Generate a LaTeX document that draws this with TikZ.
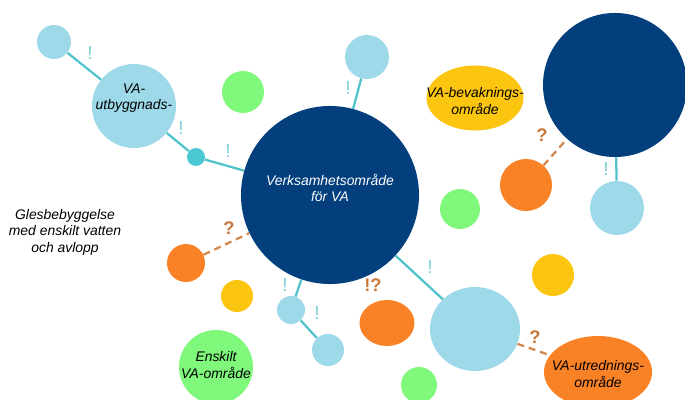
\documentclass[tikz,border=0pt]{standalone}
\usepackage{fontspec}
\setmainfont{Liberation Sans}
\usepackage{tikz}
\usetikzlibrary{shapes.geometric}

\definecolor{navy}{HTML}{023F7C}
\definecolor{skyblue}{HTML}{9DD9E8}
\definecolor{tealline}{HTML}{4FC2CB}
\definecolor{tealdot}{HTML}{4CC8D4}
\definecolor{leafgreen}{HTML}{80F87C}
\definecolor{tangerine}{HTML}{FA8226}
\definecolor{amber}{HTML}{FCC50F}
\definecolor{rust}{HTML}{D2874E}
\definecolor{bangcol}{HTML}{7ACFD8}
\definecolor{querycol}{HTML}{C8773A}

\begin{document}
\begin{tikzpicture}[x=0.025cm,y=-0.025cm,
                    blob/.style={circle,inner sep=0pt},
                    oval/.style={ellipse,inner sep=0pt},
                    txt/.style={font=\fontsize{9.9}{11.8}\selectfont\itshape,align=center,inner sep=0pt},
                    link/.style={tealline,line width=1.6pt},
                    maybe/.style={rust,line width=1.6pt,dash pattern=on 5pt off 3.5pt},
                    bang/.style={bangcol,font=\fontsize{13.5}{13.5}\selectfont},
                    query/.style={querycol,font=\fontsize{13}{13}\selectfont\bfseries}
                    ]

                \useasboundingbox (0,0) rectangle (685,400);

                % The areas
                \node[blob,fill=skyblue,minimum size=0.85cm] (lbA) at (54,42) {};
                \node[blob,fill=skyblue,minimum size=2.1cm] (utb) at (134,106) {};
                \node[blob,fill=tealdot,minimum size=0.45cm] (dot) at (196,157) {};
                \node[blob,fill=leafgreen,minimum size=1.05cm] (grA) at (243,92) {};
                \node[blob,fill=navy,minimum size=4.45cm] (verk) at (330,195) {};
                \node[blob,fill=skyblue,minimum size=1.1cm] (lbB) at (367,57) {};
                \node[oval,fill=amber,minimum width=2.425cm,minimum height=1.625cm] (bev) at (475,98) {};
                \node[blob,fill=navy,minimum size=3.6cm] (navyB) at (615,85) {};
                \node[blob,fill=tangerine,minimum size=1.3cm] (orA) at (526,185) {};
                \node[blob,fill=skyblue,minimum size=1.35cm] (lbC) at (617,208) {};
                \node[blob,fill=leafgreen,minimum size=1.0cm] (grB) at (460,209) {};
                \node[blob,fill=tangerine,minimum size=0.95cm] (orB) at (186,263) {};
                \node[blob,fill=amber,minimum size=0.8cm] (yeA) at (237,296) {};
                \node[blob,fill=skyblue,minimum size=0.7cm] (lbD) at (291,310) {};
                \node[blob,fill=skyblue,minimum size=0.8cm] (lbE) at (328,350) {};
                \node[blob,fill=leafgreen,minimum size=1.85cm] (ensk) at (216,367) {};
                \node[oval,fill=tangerine,minimum width=1.375cm,minimum height=1.15cm] (orC) at (387,323) {};
                \node[oval,fill=skyblue,minimum width=2.25cm,minimum height=2.1cm] (lbF) at (475,329) {};
                \node[blob,fill=amber,minimum size=1.05cm] (yeB) at (553,275) {};
                \node[blob,fill=leafgreen,minimum size=0.9cm] (grD) at (419,385) {};
                \node[oval,fill=tangerine,minimum width=2.7cm,minimum height=1.8cm] (utr) at (598,372) {};

                % The links
                \draw[link] (lbA) -- (utb);
                \draw[link] (utb) -- (dot);
                \draw[link] (dot) -- (verk);
                \draw[link] (lbB) -- (verk);
                \draw[link] (lbD) -- (verk);
                \draw[link] (lbD) -- (lbE);
                \draw[link] (verk) -- (lbF);
                \draw[link] (navyB) -- (lbC);
                \draw[maybe] (orB) -- (verk);
                \draw[maybe] (orA) -- (navyB);
                \draw[maybe] (lbF) -- (utr);

                % The labels
                \node[txt] (utbtxt) at (134,98) {VA-\\utbyggnads-};
                \node[txt,white] (verktxt) at (330,188) {Verksamhetsområde\\för VA};
                \node[txt] (bevtxt) at (475,101) {VA-bevaknings-\\område};
                \node[txt] (glestxt) at (65,232) {Glesbebyggelse\\med enskilt vatten\\och avlopp};
                \node[txt] (ensktxt) at (216,365) {Enskilt\\VA-område};
                \node[txt] (utrtxt) at (598,374) {VA-utrednings-\\område};

                \node[bang] (b1) at (90,53) {!};
                \node[bang] (b2) at (181,128) {!};
                \node[bang] (b3) at (228,151) {!};
                \node[bang] (b4) at (348,88) {!};
                \node[bang] (b5) at (606,169) {!};
                \node[bang] (b6) at (285,285) {!};
                \node[bang] (b7) at (317,313) {!};
                \node[bang] (b8) at (430,267) {!};
                \node[query] (q1) at (229,228) {?};
                \node[query] (q2) at (542,135) {?};
                \node[query] (q3) at (535,337) {?};
                \node[query] (q4) at (373,285) {!?};
            \end{tikzpicture}
\end{document}
